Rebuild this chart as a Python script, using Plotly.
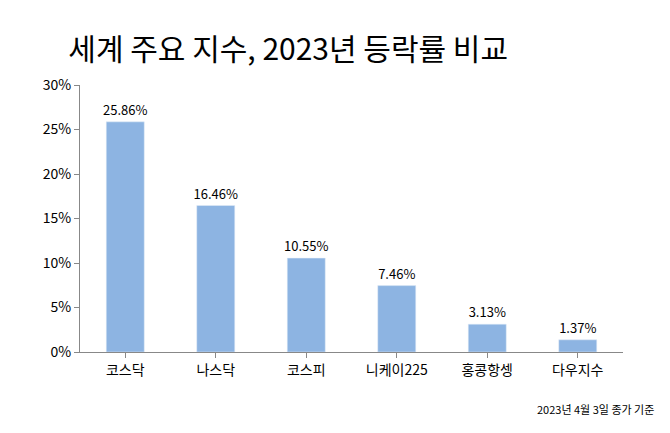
import plotly.graph_objects as go

indices = ["코스닥", "나스닥", "코스피", "니케이225", "홍콩항셍", "다우지수"]
changes = [25.86, 16.46, 10.55, 7.46, 3.13, 1.37]
labels = ["25.86%", "16.46%", "10.55%", "7.46%", "3.13%", "1.37%"]

font = "Noto Sans CJK KR"

fig = go.Figure()
fig.add_trace(go.Bar(
    x=indices, y=changes, text=labels, textposition="outside",
    constraintext="none",
    marker_color="#8db4e2", width=0.42,
    textfont=dict(size=13, color="black"), cliponaxis=False,
))
fig.update_layout(
    width=670, height=433,
    margin=dict(l=72, r=55, t=77, b=89),
    paper_bgcolor="white", plot_bgcolor="white",
    font=dict(family=font, color="black"),
    showlegend=False,
    title=dict(text="세계 주요 지수, 2023년 등락률 비교", x=0.09, xanchor="left",
               y=0.905, yanchor="middle", font=dict(size=30)),
    yaxis=dict(range=[0, 30], dtick=5, ticksuffix="%", showgrid=False,
               showline=True, linecolor="#888", ticks="outside", ticklen=5,
               tickcolor="#888", tickfont=dict(size=14)),
    xaxis=dict(showline=True, linecolor="#888", ticks="outside", tickcolor="#888",
               tickfont=dict(size=14)),
)
fig.add_annotation(text="2023년 4월 3일 종가 기준", xref="paper", yref="paper",
                   x=1.06, y=-0.25, xanchor="right", showarrow=False,
                   font=dict(size=11))
fig.write_html("out.html")
